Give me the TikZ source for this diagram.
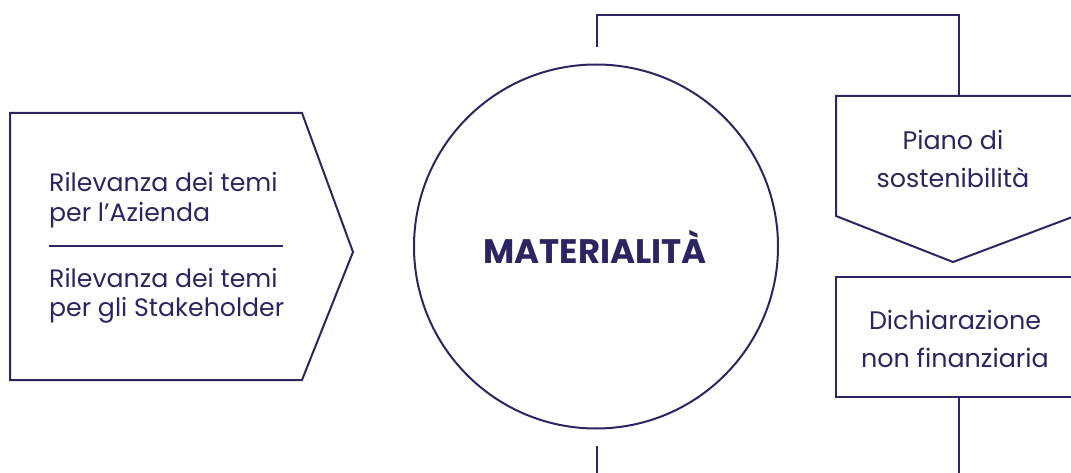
\documentclass[tikz,border=0pt]{standalone}
\usepackage{fontspec}
\setmainfont{Poppins}
\definecolor{navy}{HTML}{2B2661}
\begin{document}
\begin{tikzpicture}[x=1pt,y=-1pt,
  shapeline/.style={draw=navy,line width=2pt,line join=miter},
  bodytext/.style={text=navy,font=\fontsize{25.2}{29.5}\selectfont,inner sep=0pt},
  boxtext/.style={text=navy,font=\fontsize{25.4}{38}\selectfont,inner sep=0pt,align=center}]
\useasboundingbox (0,0) rectangle (1071,473);
% left pentagon
\draw[shapeline] (10,113) -- (302,113) -- (353,252) -- (302,380) -- (10,380) -- cycle;
\node[bodytext,anchor=west,align=left] (az) at (49,200) {Rilevanza dei temi\\per l’Azienda};
\node[bodytext,anchor=west,align=left] (st) at (49,296) {Rilevanza dei temi\\per gli Stakeholder};
\coordinate (sepL) at (49,246);
\coordinate (sepR) at (283,246);
\draw[navy,line width=2pt] (sepL) -- (sepR);
% circle
\node[circle,shapeline,minimum size=364pt,inner sep=0pt] (mat) at (596,246.5) {};
\node[text=navy,font=\fontsize{34}{34}\selectfont\bfseries,inner sep=0pt] (matt) at (595,247) {MATERIALITÀ};
% Piano box
\draw[shapeline] (836,96) -- (1075,96) -- (1075,216) -- (953,262) -- (836,216) -- cycle;
\node[boxtext] (piano) at (953,159) {Piano di\\sostenibilità};
% Dichiarazione box
\draw[shapeline] (1075,277) -- (836,277) -- (836,397) -- (1075,397);
\node[boxtext] (dich) at (955,339) {Dichiarazione\\non finanziaria};
% connectors
\coordinate (topA) at (597,47);
\coordinate (topB) at (597,15);
\coordinate (topC) at (959,15);
\coordinate (topD) at (959,96);
\draw[navy,line width=2pt] (topA) -- (topB) -- (topC) -- (topD);
\coordinate (botA) at (597,446);
\coordinate (botB) at (597,474);
\draw[navy,line width=2pt] (botA) -- (botB);
\coordinate (botC) at (959,397);
\coordinate (botD) at (959,474);
\draw[navy,line width=2pt] (botC) -- (botD);
\end{tikzpicture}
\end{document}
